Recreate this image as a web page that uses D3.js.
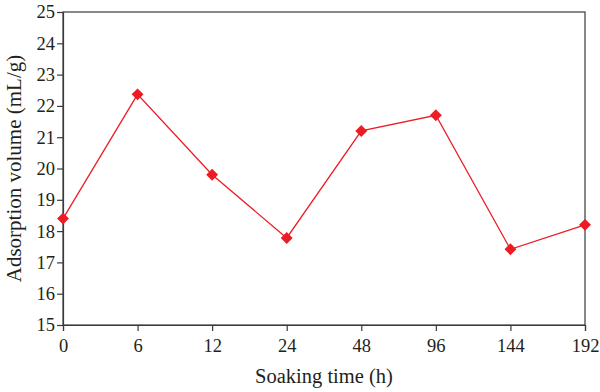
<!DOCTYPE html>
<html>
<head>
<meta charset="utf-8">
<script src="https://cdn.jsdelivr.net/npm/d3@7"></script>
<style>
  body { margin: 0; background: #fff; }
  text { font-family: "Liberation Serif", "DejaVu Serif", serif; fill: #231f20; }
</style>
</head>
<body>
<script>
var hours  = ["0", "6", "12", "24", "48", "96", "144", "192"];
var volume = [18.4, 22.37, 19.8, 17.78, 21.2, 21.7, 17.42, 18.2];
var yTicks = [15, 16, 17, 18, 19, 20, 21, 22, 23, 24, 25];

var outerWidth = 600, outerHeight = 392;
var margin = { left: 63, top: 12, right: 15, bottom: 67 };
var innerWidth  = outerWidth - margin.left - margin.right;
var innerHeight = outerHeight - margin.top - margin.bottom;

var data = hours.map(function (h, i) { return { h: h, v: volume[i] }; });

var svg = d3.select("body").append("svg")
  .attr("width", outerWidth)
  .attr("height", outerHeight);

var g = svg.append("g")
  .attr("transform", "translate(" + margin.left + "," + margin.top + ")");

var xScale = d3.scalePoint().domain(hours).range([0, innerWidth]).padding(0);
var yScale = d3.scaleLinear().domain([15, 25]).range([innerHeight, 0]);

// frame
g.append("rect")
  .attr("width", innerWidth)
  .attr("height", innerHeight)
  .attr("fill", "none")
  .attr("stroke", "#3a3a3a")
  .attr("stroke-width", 1.2);

var xAxis = g.append("g")
  .attr("transform", "translate(0," + innerHeight + ")")
  .call(d3.axisBottom(xScale).tickSize(6).tickPadding(8));
var yAxis = g.append("g")
  .call(d3.axisLeft(yScale).tickValues(yTicks).tickFormat(d3.format("d")).tickSize(6).tickPadding(2));

[xAxis, yAxis].forEach(function (ax) {
  ax.select(".domain").attr("stroke", "#3a3a3a").attr("stroke-width", 1.2);
  ax.selectAll(".tick line").attr("stroke", "#3a3a3a").attr("stroke-width", 1.2);
  ax.selectAll(".tick text").style("font-size", "18.5px").attr("fill", "#231f20");
});

var line = d3.line()
  .x(function (d) { return xScale(d.h); })
  .y(function (d) { return yScale(d.v); });

g.append("path")
  .datum(data)
  .attr("d", line)
  .attr("fill", "none")
  .attr("stroke", "#ec1c24")
  .attr("stroke-width", 1.3);

g.selectAll(".pt").data(data).enter()
  .append("path")
  .attr("class", "pt")
  .attr("d", d3.symbol().type(d3.symbolDiamond2).size(90))
  .attr("transform", function (d) { return "translate(" + xScale(d.h) + "," + yScale(d.v) + ")"; })
  .attr("fill", "#ec1c24");

svg.append("text")
  .attr("x", margin.left + innerWidth / 2)
  .attr("y", 383)
  .attr("text-anchor", "middle")
  .style("font-size", "20.5px")
  .text("Soaking time (h)");

svg.append("text")
  .attr("transform", "translate(21," + (margin.top + innerHeight / 2) + ") rotate(-90)")
  .attr("text-anchor", "middle")
  .style("font-size", "21px")
  .text("Adsorption volume (mL/g)");
</script>
</body>
</html>
